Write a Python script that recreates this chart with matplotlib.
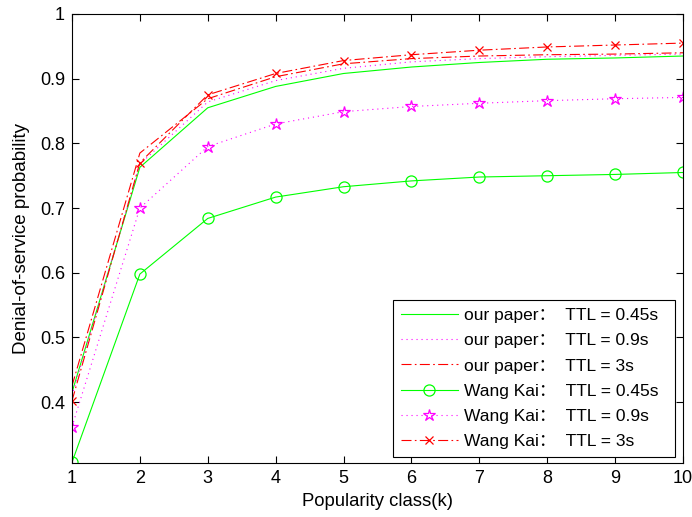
import matplotlib
matplotlib.use("Agg")
import matplotlib.pyplot as plt

k = [1, 2, 3, 4, 5, 6, 7, 8, 9, 10]

our_045 = [0.415, 0.763, 0.855, 0.888, 0.908, 0.918, 0.925, 0.930, 0.932, 0.935]
our_09 = [0.410, 0.768, 0.864, 0.897, 0.916, 0.926, 0.931, 0.934, 0.936, 0.938]
our_3 = [0.425, 0.785, 0.869, 0.903, 0.923, 0.931, 0.935, 0.937, 0.938, 0.940]
wk_045 = [0.307, 0.598, 0.684, 0.717, 0.733, 0.742, 0.748, 0.750, 0.752, 0.755]
wk_09 = [0.362, 0.700, 0.795, 0.830, 0.849, 0.857, 0.862, 0.866, 0.869, 0.871]
wk_3 = [0.402, 0.770, 0.875, 0.908, 0.928, 0.937, 0.944, 0.949, 0.952, 0.955]

labels = [
    "our paper：  TTL = 0.45s",
    "our paper：  TTL = 0.9s",
    "our paper：  TTL = 3s",
    "Wang Kai：  TTL = 0.45s",
    "Wang Kai：  TTL = 0.9s",
    "Wang Kai：  TTL = 3s",
]
xticks = [1, 2, 3, 4, 5, 6, 7, 8, 9, 10]
yticks = [0.4, 0.5, 0.6, 0.7, 0.8, 0.9, 1.0]
yticklabels = ["0.4", "0.5", "0.6", "0.7", "0.8", "0.9", "1"]

plt.rcParams['font.family'] = ['Liberation Sans', 'Noto Sans CJK SC', 'DejaVu Sans']
plt.rcParams['font.size'] = 13

GREEN = (0, 1, 0)
MAGENTA = (1, 0, 1)
RED = (1, 0, 0)
DOT = (0, (1, 3.5))
DASHDOT = (0, (9, 3, 1.5, 3))
lw = 0.8

fig = plt.figure(figsize=(6.92, 5.17), dpi=100)
ax = fig.add_axes([0.104, 0.1044, 0.883, 0.8686])

ax.plot(k, our_045, color=GREEN, lw=lw, linestyle='-', label=labels[0])
ax.plot(k, our_09, color=MAGENTA, lw=lw, linestyle=DOT, label=labels[1])
ax.plot(k, our_3, color=RED, lw=lw, linestyle=DASHDOT, label=labels[2])
ax.plot(k, wk_045, color=GREEN, lw=lw, linestyle='-', marker='o', markersize=8,
        markerfacecolor='none', markeredgecolor=GREEN, markeredgewidth=0.9, label=labels[3])
ax.plot(k, wk_09, color=MAGENTA, lw=lw, linestyle=DOT, marker='*', markersize=9,
        markerfacecolor='none', markeredgecolor=MAGENTA, markeredgewidth=0.9, label=labels[4])
ax.plot(k, wk_3, color=RED, lw=lw, linestyle=DASHDOT, marker='x', markersize=6,
        markeredgecolor=RED, markeredgewidth=0.9, label=labels[5])

ax.set_xlim(1, 10)
ax.set_ylim(0.306, 1.0)
ax.set_xticks(xticks)
ax.set_yticks(yticks)
ax.set_yticklabels(yticklabels)
ax.tick_params(direction='in', length=5, width=0.8, top=True, right=True, labelsize=13, pad=5)
for s in ax.spines.values():
    s.set_linewidth(0.8)
ax.set_xlabel("Popularity class(k)", fontsize=13.3, labelpad=4)
ax.set_ylabel("Denial-of-service probability", fontsize=13.5, labelpad=7)

leg = ax.legend(loc='lower left', bbox_to_anchor=(0.525, 0.0134, 0.4615, 0.3), mode='expand',
                bbox_transform=ax.transAxes,
                fancybox=False, edgecolor='black', framealpha=1, fontsize=12.5,
                handlelength=3.3, handletextpad=0.35, labelspacing=0.58,
                borderpad=0.45, borderaxespad=0, markerscale=1.0)
leg.get_frame().set_linewidth(0.8)

fig.savefig("out.png", dpi=100)
